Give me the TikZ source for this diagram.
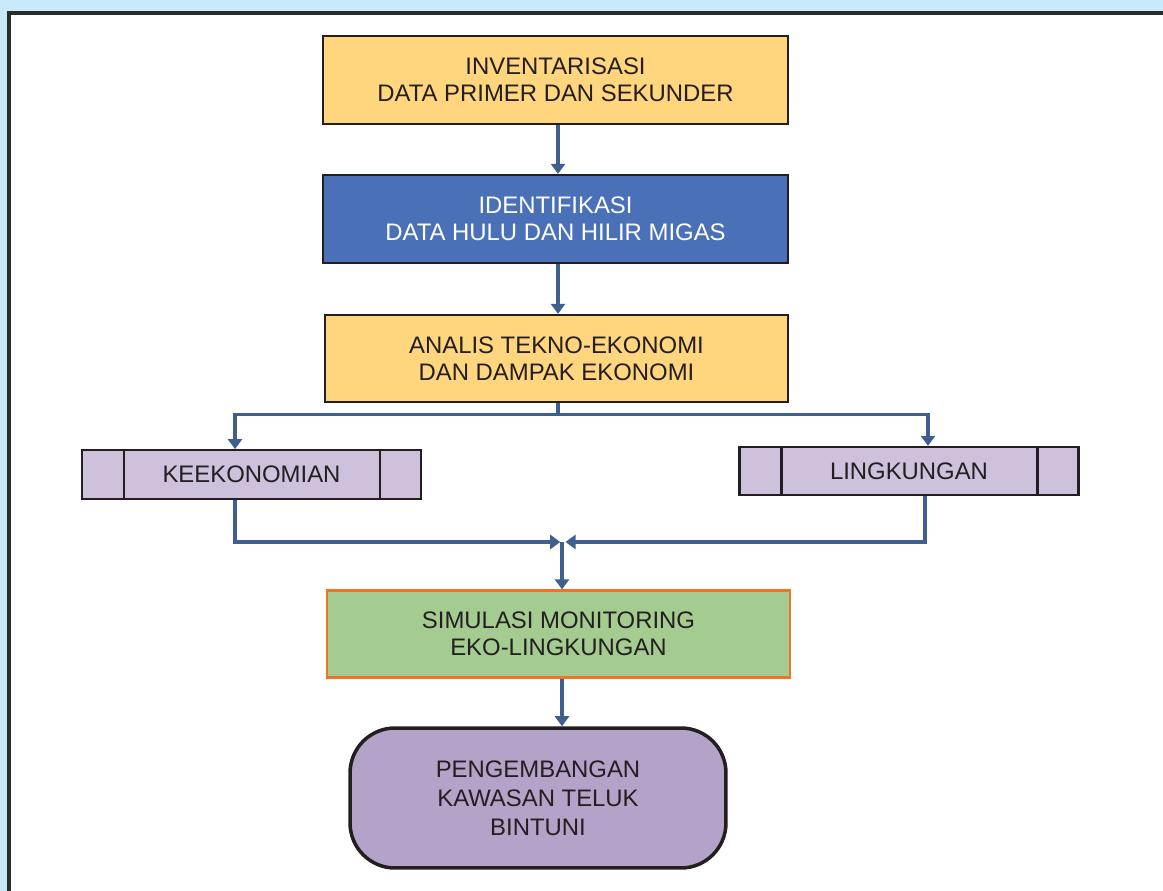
\documentclass[tikz,border=0pt]{standalone}
\usepackage{fontspec}
\setmainfont{Liberation Sans}
\usetikzlibrary{calc,arrows.meta}
\definecolor{bgblue}{HTML}{C7E9F9}
\definecolor{frameline}{HTML}{2B2B2B}
\definecolor{boxline}{HTML}{231F20}
\definecolor{txt}{HTML}{231F20}
\definecolor{sand}{HTML}{FFD57E}
\definecolor{steel}{HTML}{4A71B8}
\definecolor{lilac}{HTML}{CDC1DB}
\definecolor{leaf}{HTML}{A5CC90}
\definecolor{rim}{HTML}{EE7623}
\definecolor{plum}{HTML}{B3A3C9}
\definecolor{arrowblue}{HTML}{3E5F8F}
\tikzset{
  boxfont/.style={font=\fontsize{13.6}{15.4}\selectfont},
  box/.style={draw=boxline, line width=1.3pt, minimum width=9.3cm, minimum height=1.76cm,
    align=center, text=txt, boxfont},
  sidebox/.style={draw=boxline, line width=1.3pt, fill=lilac, minimum width=6.78cm,
    minimum height=0.97cm, text=txt, boxfont},
  endbox/.style={draw=boxline, line width=2pt, fill=plum, rounded corners=0.9cm,
    minimum width=7.52cm, minimum height=2.8cm, align=center, text=txt,
    font=\fontsize{13.6}{16.4}\selectfont},
  link/.style={draw=arrowblue, line width=1.8pt},
  flow/.style={link, -{Triangle[length=5.7pt,width=8pt]}}
}
\def\sidebars(#1){\draw[boxline, line width=1.3pt] ($(#1.north west)+(43,0)$) -- ($(#1.south west)+(43,0)$);
  \draw[boxline, line width=1.3pt] ($(#1.north east)+(-42,0)$) -- ($(#1.south east)+(-42,0)$);}

\begin{document}
\begin{tikzpicture}[x=0.02cm, y=0.02cm]
		%%%%% START %%%%%
		
		\useasboundingbox (0,0) rectangle (1163,-891);
		\fill[bgblue] (0,0) rectangle (1163,-891);
		\begin{scope}
			\clip (0,0) rectangle (1163,-891);
			\draw[frameline, line width=1.8pt, fill=white] (9,-13) rectangle (1180,-910);
		\end{scope}
		
		\node[box, fill=sand] (inv) at (555.5,-80) {INVENTARISASI\\DATA PRIMER DAN SEKUNDER};
		\node[box, fill=steel, text=white] (ident) at (555.5,-219) {IDENTIFIKASI\\DATA HULU DAN HILIR MIGAS};
		\node[box, fill=sand, minimum width=9.26cm, minimum height=1.74cm] (ana) at (556.5,-358.5) {ANALIS TEKNO-EKONOMI\\DAN DAMPAK EKONOMI};
		
		\node[sidebox] (keek) at (251.5,-474.5) {KEEKONOMIAN};
		\sidebars(keek)
		\node[sidebox, minimum height=0.96cm] (ling) at (909,-471) {LINGKUNGAN};
		\sidebars(ling)
		
		\node[box, fill=leaf, draw=rim, minimum width=9.26cm, minimum height=1.74cm] (simul) at (558.5,-634) {SIMULASI MONITORING\\EKO-LINGKUNGAN};
		\node[endbox] (peng) at (538,-798) {PENGEMBANGAN\\KAWASAN TELUK\\BINTUNI};
		
		% arrows
		\coordinate (spine) at (558,0);
		\draw[flow] (inv.south -| spine) -- (ident.north -| spine);
		\draw[flow] (ident.south -| spine) -- (ana.north -| spine);
		
		\draw[link] (ana.south -| spine) -- ++(0,-11) coordinate (split);
		\draw[flow] (split) -| ($(keek.north)+(-16.5,0)$);
		\draw[flow] (split) -| ($(ling.north)+(19,0)$);
		
		\coordinate (merge) at (562,-542);
		\draw[flow] ($(keek.south)+(-16.5,0)$) |- ([xshift=-1pt]merge);
		\draw[flow] ($(ling.south)+(16,0)$) |- ([xshift=2pt]merge);
		\draw[flow] (merge) -- (merge |- simul.north);
		
		\draw[flow] (simul.south -| merge) -- (peng.north -| merge);
		
		%%%%% END %%%%%
	\end{tikzpicture}
\end{document}
